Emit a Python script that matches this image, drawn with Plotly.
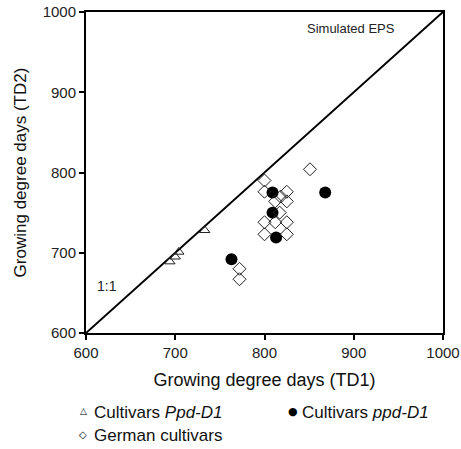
import plotly.graph_objects as go

# Thermal time (growing degree days) to the two development stages
ppd_hi_td1 = [694, 700, 704, 733]
ppd_hi_td2 = [689, 695, 701, 728]

ppd_lo_td1 = [763, 809, 809, 813, 868]
ppd_lo_td2 = [692, 775, 750, 719, 775]

german_td1 = [851, 800, 800, 825, 818, 812, 825, 817, 800, 812, 825, 800, 825, 772, 772]
german_td2 = [804, 790, 776, 776, 770, 764, 764, 750, 738, 738, 738, 723, 723, 680, 667]

axis_range = [600, 1000]
tick_vals = [600, 700, 800, 900, 1000]

FONT = "Liberation Sans, Arial, sans-serif"
W, H = 461, 449
M_L, M_R, M_T, M_B = 86, 18, 12, 116
PW, PH = W - M_L - M_R, H - M_T - M_B

fig = go.Figure()

# 1:1 reference line
fig.add_trace(go.Scatter(
    x=axis_range, y=axis_range, mode="lines",
    line=dict(color="black", width=2), showlegend=False, hoverinfo="skip"))

series = [
    dict(x=ppd_hi_td1, y=ppd_hi_td2, name="Cultivars <i>Ppd-D1</i>",
         marker=dict(symbol="triangle-up-open", size=9, color="#222", line=dict(width=1))),
    dict(x=ppd_lo_td1, y=ppd_lo_td2, name="Cultivars <i>ppd-D1</i>",
         marker=dict(symbol="circle", size=12, color="black")),
    dict(x=german_td1, y=german_td2, name="German cultivars",
         marker=dict(symbol="diamond-open", size=10, color="#222", line=dict(width=1))),
]
for s in series:
    fig.add_trace(go.Scatter(mode="markers", showlegend=False, **s))

axis_style = dict(
    range=axis_range, tickvals=tick_vals, showgrid=False, zeroline=False,
    showline=True, linecolor="black", linewidth=2, mirror=True,
    ticks="outside", ticklen=5, tickwidth=2, tickcolor="black",
    tickfont=dict(family=FONT, size=15, color="#222"), automargin=False,
)

fig.update_xaxes(**axis_style, title=dict(
    text="Growing degree days (TD1)", standoff=13,
    font=dict(family=FONT, size=18, color="#111")))
fig.update_yaxes(**axis_style, title=dict(
    text="Growing degree days (TD2)", standoff=12,
    font=dict(family=FONT, size=17, color="#111")))

fig.add_annotation(x=897, y=980, text="Simulated EPS", showarrow=False,
                   font=dict(family=FONT, size=13, color="#222"))
fig.add_annotation(x=624, y=659, text="1:1", showarrow=False,
                   font=dict(family=FONT, size=14, color="#222"))


def px_to_paper(px, py):
    return (px - M_L) / PW, (H - M_B - py) / PH


# Key below the axis: symbol glyph followed by the series name
key = [
    ("\u25B3", 9, 83, 411, 92, 412, series[0]["name"]),
    ("\u25CF", 11, 293, 411, 300, 412, series[1]["name"]),
    ("\u25C7", 10, 83, 434, 92, 435, series[2]["name"]),
]
for glyph, gsize, gx, gy, tx, ty, label in key:
    x0, y0 = px_to_paper(gx, gy)
    fig.add_annotation(xref="paper", yref="paper", x=x0, y=y0, text=glyph,
                       showarrow=False, xanchor="center", yanchor="middle",
                       font=dict(family="DejaVu Sans", size=gsize, color="black"))
    x1, y1 = px_to_paper(tx, ty)
    fig.add_annotation(xref="paper", yref="paper", x=x1, y=y1, text=label,
                       showarrow=False, xanchor="left", yanchor="middle",
                       font=dict(family=FONT, size=17, color="#111"))

fig.update_layout(
    width=W, height=H,
    margin=dict(l=M_L, r=M_R, t=M_T, b=M_B),
    paper_bgcolor="white", plot_bgcolor="white",
    font=dict(family=FONT, color="#111"),
    showlegend=False,
)

fig.write_html("out.html")
